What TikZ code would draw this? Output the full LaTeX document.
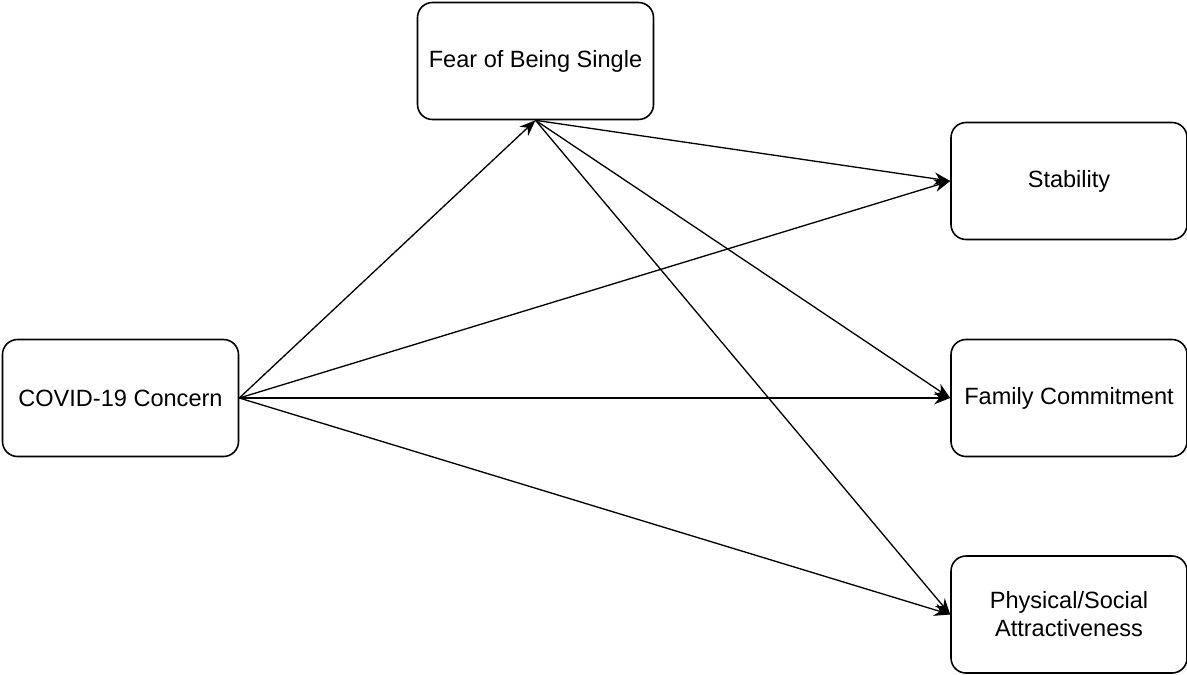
\documentclass[tikz,border=0pt]{standalone}
\usepackage{fontspec}
\setmainfont{Liberation Sans}
\usetikzlibrary{arrows.meta}
\tikzset{
    var/.style={draw, line width=0.9pt, rounded corners=0.3cm, minimum width=4.72cm,
        minimum height=2.34cm, align=center, font=\fontsize{13.4}{16}\selectfont},
    path/.style={-{Stealth[length=0.32cm,width=0.25cm]}, line width=0.75pt}
}
\begin{document}
\begin{tikzpicture}
    \useasboundingbox (0,0) rectangle (23.74,-13.48);
    \node[var] (covid) at (2.41,-7.96) {COVID-19 Concern};
    \node[var] (fear) at (10.71,-1.22) {Fear of Being Single};
    \node[var] (stab) at (21.38,-3.62) {Stability};
    \node[var] (fam) at (21.38,-7.96) {Family Commitment};
    \node[var] (phys) at (21.38,-12.29) {Physical/Social\\Attractiveness};
    \draw[path] (covid.east) -- (fear.south);
    \draw[path] (covid.east) -- (stab.west);
    \draw[path] (covid.east) -- (fam.west);
    \draw[path] (covid.east) -- (phys.west);
    \draw[path] (fear.south) -- (stab.west);
    \draw[path] (fear.south) -- (fam.west);
    \draw[path] (fear.south) -- (phys.west);
\end{tikzpicture}
\end{document}
